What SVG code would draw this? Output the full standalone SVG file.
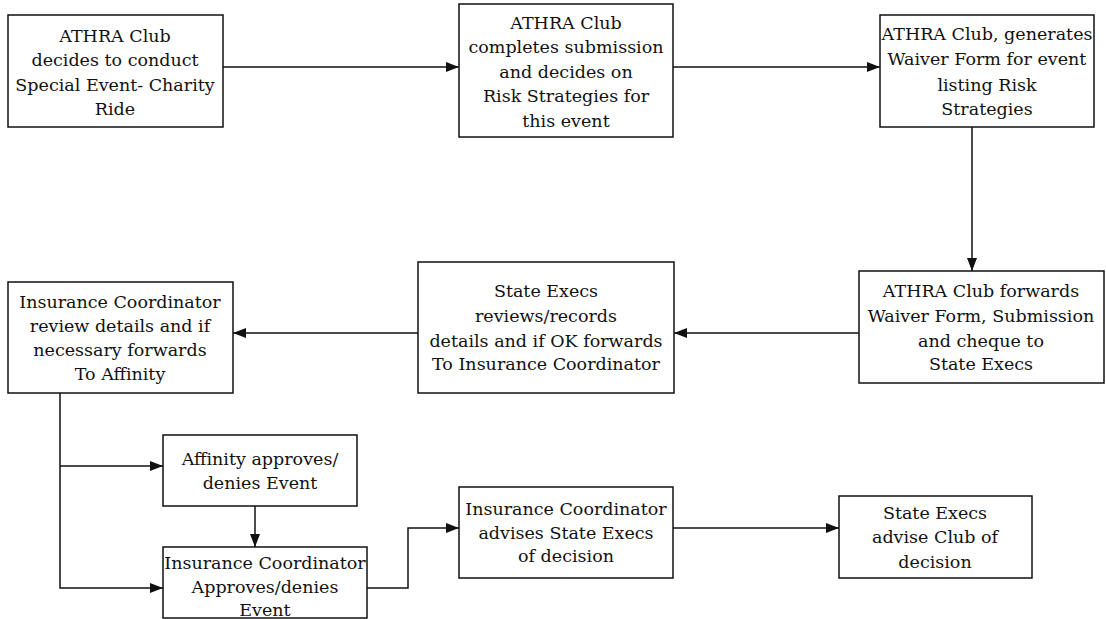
<svg xmlns="http://www.w3.org/2000/svg" width="1106" height="619" viewBox="0 0 1106 619">
<style>
.box{fill:#fff;stroke:#111;stroke-width:1.5}
.t{font-family:"DejaVu Serif","Liberation Serif",serif;font-size:17.5px;fill:#111;text-anchor:middle}
.c{fill:none;stroke:#111;stroke-width:1.5}
</style>
<defs>
<marker id="ah" viewBox="0 0 13 10" refX="13" refY="5" markerWidth="13" markerHeight="10" markerUnits="userSpaceOnUse" orient="auto">
<path d="M0,0 L13,5 L0,10 Z" fill="#111"/>
</marker>
</defs>
<rect width="1106" height="619" fill="#fff"/>
<g id="connectors">
<path class="c" d="M223,67 H459" marker-end="url(#ah)"/>
<path class="c" d="M673,67 H880" marker-end="url(#ah)"/>
<path class="c" d="M972,127 V271" marker-end="url(#ah)"/>
<path class="c" d="M859,333 H674" marker-end="url(#ah)"/>
<path class="c" d="M418,333 H233" marker-end="url(#ah)"/>
<path class="c" d="M60,393 V588 H163" marker-end="url(#ah)"/>
<path class="c" d="M60,466 H163" marker-end="url(#ah)"/>
<path class="c" d="M255,506 V547" marker-end="url(#ah)"/>
<path class="c" d="M367,588 H408 V528 H459" marker-end="url(#ah)"/>
<path class="c" d="M673,528 H839" marker-end="url(#ah)"/>
</g>
<g id="n1">
<rect class="box" x="8" y="15" width="215" height="112"/>
<text class="t" x="115" y="42">ATHRA Club</text>
<text class="t" x="115" y="66">decides to conduct</text>
<text class="t" x="115" y="91">Special Event- Charity</text>
<text class="t" x="115" y="115">Ride</text>
</g>
<g id="n2">
<rect class="box" x="459" y="4" width="214" height="133"/>
<text class="t" x="566" y="29">ATHRA Club</text>
<text class="t" x="566" y="53">completes submission</text>
<text class="t" x="566" y="78">and decides on</text>
<text class="t" x="566" y="102">Risk Strategies for</text>
<text class="t" x="566" y="127">this event</text>
</g>
<g id="n3">
<rect class="box" x="880" y="15" width="214" height="112"/>
<text class="t" x="987" y="40">ATHRA Club, generates</text>
<text class="t" x="987" y="65">Waiver Form for event</text>
<text class="t" x="987" y="91">listing Risk</text>
<text class="t" x="987" y="115">Strategies</text>
</g>
<g id="n4">
<rect class="box" x="859" y="271" width="245" height="112"/>
<text class="t" x="981" y="297">ATHRA Club forwards</text>
<text class="t" x="981" y="322">Waiver Form, Submission</text>
<text class="t" x="981" y="347">and cheque to</text>
<text class="t" x="981" y="370">State Execs</text>
</g>
<g id="n5">
<rect class="box" x="418" y="262" width="256" height="131"/>
<text class="t" x="546" y="297">State Execs</text>
<text class="t" x="546" y="322">reviews/records</text>
<text class="t" x="546" y="347">details and if OK forwards</text>
<text class="t" x="546" y="370">To Insurance Coordinator</text>
</g>
<g id="n6">
<rect class="box" x="8" y="282" width="225" height="111"/>
<text class="t" x="120" y="308">Insurance Coordinator</text>
<text class="t" x="120" y="332">review details and if</text>
<text class="t" x="120" y="356">necessary forwards</text>
<text class="t" x="120" y="380">To Affinity</text>
</g>
<g id="n7">
<rect class="box" x="163" y="435" width="194" height="71"/>
<text class="t" x="260" y="465">Affinity approves/</text>
<text class="t" x="260" y="489">denies Event</text>
</g>
<g id="n8">
<rect class="box" x="163" y="547" width="204" height="71"/>
<text class="t" x="265" y="569">Insurance Coordinator</text>
<text class="t" x="265" y="593">Approves/denies</text>
<text class="t" x="265" y="616">Event</text>
</g>
<g id="n9">
<rect class="box" x="459" y="487" width="214" height="91"/>
<text class="t" x="566" y="515">Insurance Coordinator</text>
<text class="t" x="566" y="539">advises State Execs</text>
<text class="t" x="566" y="562">of decision</text>
</g>
<g id="n10">
<rect class="box" x="839" y="496" width="193" height="82"/>
<text class="t" x="935" y="519">State Execs</text>
<text class="t" x="935" y="543">advise Club of</text>
<text class="t" x="935" y="568">decision</text>
</g>
</svg>
